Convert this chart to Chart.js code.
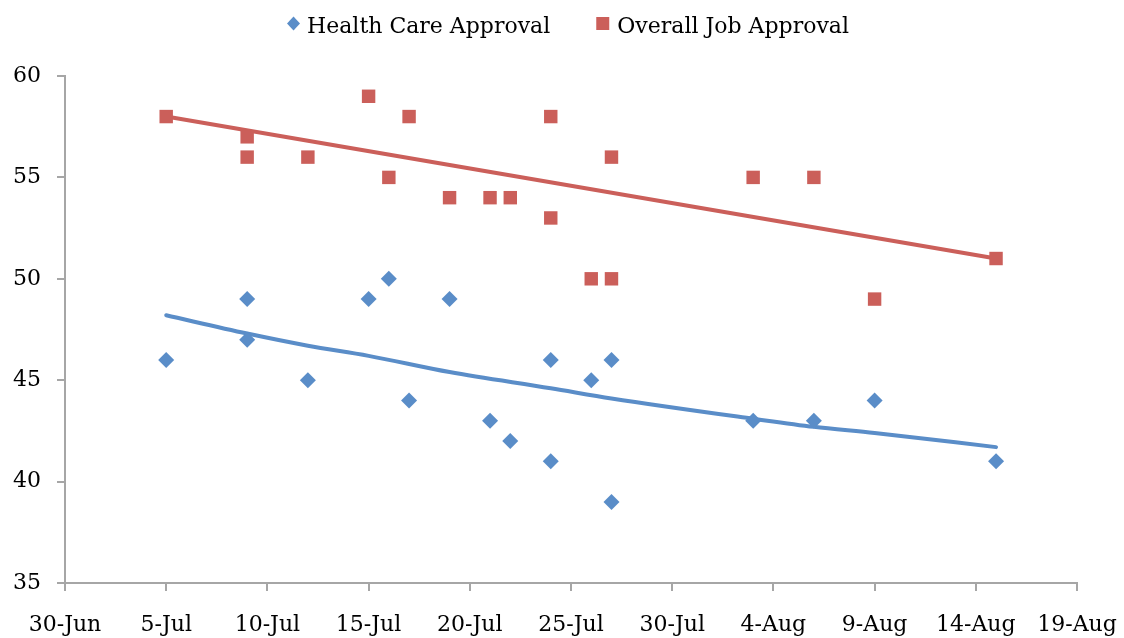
<!DOCTYPE html>
<html>
<head>
<meta charset="utf-8">
<script src="https://cdn.jsdelivr.net/npm/chart.js@4/dist/chart.umd.min.js"></script>
<style>
  html, body { margin: 0; padding: 0; background: #ffffff; }
  #wrap { width: 1124px; height: 638px; }
</style>
</head>
<body>
<div id="wrap"><canvas id="c" width="1124" height="638"></canvas></div>
<script>
// ---- data ----
const tickLabels = ['30-Jun', '5-Jul', '10-Jul', '15-Jul', '20-Jul', '25-Jul', '30-Jul', '4-Aug', '9-Aug', '14-Aug', '19-Aug'];

const healthDates  = ['7/5', '7/9', '7/9', '7/12', '7/15', '7/16', '7/17', '7/19', '7/21', '7/22', '7/24', '7/24', '7/26', '7/27', '7/27', '8/3', '8/6', '8/9', '8/15'];
const healthValues = [46, 49, 47, 45, 49, 50, 44, 49, 43, 42, 46, 41, 45, 46, 39, 43, 43, 44, 41];

const jobDates  = ['7/5', '7/9', '7/9', '7/12', '7/15', '7/16', '7/17', '7/19', '7/21', '7/22', '7/24', '7/24', '7/26', '7/27', '7/27', '8/3', '8/6', '8/9', '8/15'];
const jobValues = [58, 57, 56, 56, 59, 55, 58, 54, 54, 54, 58, 53, 50, 56, 50, 55, 55, 49, 51];

// trend lines as drawn in the picture
const healthTrendDates  = ['7/5', '7/9', '7/12', '7/15', '7/19', '7/24', '7/27', '8/3', '8/6', '8/9', '8/15'];
const healthTrendValues = [48.2, 47.3, 46.7, 46.2, 45.4, 44.6, 44.1, 43.1, 42.7, 42.4, 41.7];

const jobTrendDates  = ['7/5', '8/15'];
const jobTrendValues = [58.0, 51.0];

const seriesNames = ['Health Care Approval', 'Overall Job Approval'];
// ----------------------------------------------

const BLUE = '#5A8DC8';
const RED = '#CB5F5A';
const AXIS = '#A6A6A6';
const FONT = '"DejaVu Serif", serif';
const FSIZE = 22;

function dayOffset(md) {
  const [m, d] = md.split('/').map(Number);
  return Math.round((Date.UTC(2009, m - 1, d) - Date.UTC(2009, 5, 30)) / 86400000);
}
function toPoints(dates, values) {
  return dates.map((d, i) => ({ x: dayOffset(d), y: values[i] }));
}

const legendPlugin = {
  id: 'customLegend',
  afterDraw(chart) {
    const ctx = chart.ctx;
    ctx.save();
    ctx.font = FSIZE + 'px ' + FONT;
    ctx.fillStyle = '#000';
    ctx.textBaseline = 'alphabetic';
    const w1 = ctx.measureText(seriesNames[0]).width;
    const w2 = ctx.measureText(seriesNames[1]).width;
    const total = 13 + 7 + w1 + 46 + 13 + 8 + w2;
    let x = 568 - total / 2;
    const cy = 23.5;
    // diamond
    ctx.fillStyle = BLUE;
    ctx.beginPath();
    ctx.moveTo(x + 6.5, cy - 7);
    ctx.lineTo(x + 13, cy);
    ctx.lineTo(x + 6.5, cy + 7);
    ctx.lineTo(x, cy);
    ctx.closePath();
    ctx.fill();
    x += 13 + 7;
    ctx.fillStyle = '#000';
    ctx.fillText(seriesNames[0], x, 32.5);
    x += w1 + 46;
    ctx.fillStyle = RED;
    ctx.fillRect(x, cy - 6.5, 13, 13);
    x += 13 + 8;
    ctx.fillStyle = '#000';
    ctx.fillText(seriesNames[1], x, 32.5);
    ctx.restore();
  }
};

Chart.defaults.font.family = FONT;
Chart.defaults.font.size = FSIZE;
Chart.defaults.color = '#000';

new Chart(document.getElementById('c'), {
  type: 'scatter',
  data: {
    datasets: [
      {
        label: seriesNames[0],
        data: toPoints(healthDates, healthValues),
        pointStyle: 'rectRot',
        pointRadius: 8,
        pointBorderWidth: 0,
        backgroundColor: BLUE,
        borderColor: BLUE
      },
      {
        label: seriesNames[1],
        data: toPoints(jobDates, jobValues),
        pointStyle: 'rect',
        pointRadius: 9.5,
        pointBorderWidth: 0,
        backgroundColor: RED,
        borderColor: RED
      },
      {
        label: 'Health trend',
        data: toPoints(healthTrendDates, healthTrendValues),
        showLine: true,
        pointRadius: 0,
        borderColor: BLUE,
        borderWidth: 4,
        cubicInterpolationMode: 'monotone',
        borderCapStyle: 'round',
        fill: false
      },
      {
        label: 'Job trend',
        data: toPoints(jobTrendDates, jobTrendValues),
        showLine: true,
        pointRadius: 0,
        borderColor: RED,
        borderWidth: 4,
        borderCapStyle: 'round',
        fill: false
      }
    ]
  },
  options: {
    responsive: false,
    animation: false,
    events: [],
    layout: { padding: { top: 76, left: 0, right: 47, bottom: 0 } },
    plugins: {
      legend: { display: false },
      tooltip: { enabled: false }
    },
    scales: {
      x: {
        type: 'linear',
        min: 0,
        max: 50,
        afterFit(s) { s.height = 55; s.paddingLeft = 0; s.paddingRight = 0; },
        afterBuildTicks(s) {
          s.ticks = tickLabels.map((_, i) => ({ value: i * 5 }));
        },
        ticks: {
          stepSize: 5,
          autoSkip: false,
          maxRotation: 0,
          padding: 21,
          callback: (v) => tickLabels[Math.round(v / 5)]
        },
        grid: {
          drawOnChartArea: false,
          drawTicks: true,
          tickLength: 8,
          color: AXIS,
          lineWidth: 2
        },
        border: { display: true, color: AXIS, width: 2 }
      },
      y: {
        min: 35,
        max: 60,
        afterFit(s) { s.width = 65; s.paddingTop = 0; s.paddingBottom = 0; },
        ticks: { stepSize: 5, padding: 16 },
        grid: {
          drawOnChartArea: false,
          drawTicks: true,
          tickLength: 8,
          color: AXIS,
          lineWidth: 2
        },
        border: { display: true, color: AXIS, width: 2 }
      }
    }
  },
  plugins: [legendPlugin]
});
</script>
</body>
</html>
